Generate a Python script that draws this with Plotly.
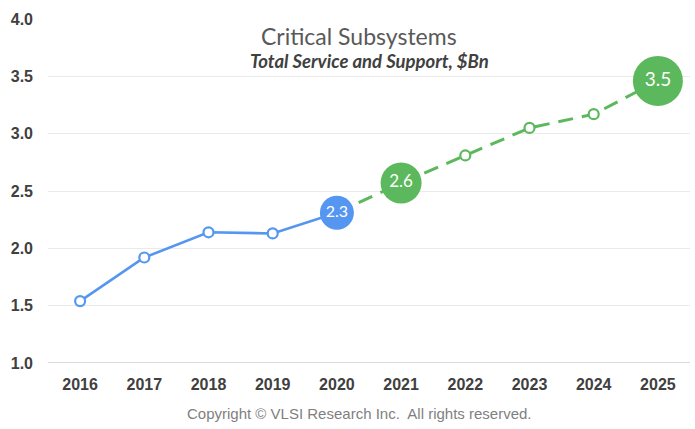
import plotly.graph_objects as go

years = ["2016", "2017", "2018", "2019", "2020", "2021", "2022", "2023", "2024", "2025"]
actual_years = ["2016", "2017", "2018", "2019", "2020"]
actual_vals = [1.54, 1.92, 2.14, 2.13, 2.31]
forecast_years = ["2020", "2021", "2022", "2023", "2024", "2025"]
forecast_vals = [2.31, 2.57, 2.81, 3.05, 3.17, 3.46]
bubble_years = ["2020", "2021", "2025"]
bubble_vals = [2.31, 2.57, 3.46]
bubble_labels = ["2.3", "2.6", "3.5"]
bubble_sizes = [34, 41, 50]
bubble_text_sizes = [16, 17, 19]
bubble_colors = ["#5596F0", "#5CB85C", "#5CB85C"]

BLUE = "#5596F0"
GREEN = "#5CB85C"
TICKFONT = dict(family="Liberation Sans, Arial, sans-serif", size=16, color="#404040", weight="bold")

fig = go.Figure()

fig.add_trace(go.Scatter(
    x=forecast_years, y=forecast_vals, mode="lines",
    line=dict(color=GREEN, width=3, dash="15px,9px")))
fig.add_trace(go.Scatter(
    x=forecast_years[2:-1], y=forecast_vals[2:-1], mode="markers",
    marker=dict(size=10, color="white", line=dict(color=GREEN, width=2.2))))
fig.add_trace(go.Scatter(
    x=actual_years, y=actual_vals, mode="lines+markers",
    line=dict(color=BLUE, width=2.6),
    marker=dict(size=10, color="white", line=dict(color=BLUE, width=2.2))))
fig.add_trace(go.Scatter(
    x=bubble_years, y=bubble_vals, mode="markers+text",
    text=bubble_labels, textposition="middle center",
    textfont=dict(color="white", size=bubble_text_sizes, family="Lato, Open Sans, sans-serif"),
    marker=dict(size=bubble_sizes, color=bubble_colors, line=dict(width=0), opacity=1)))

fig.update_layout(
    width=695, height=429,
    margin=dict(l=48, r=5, t=19, b=66),
    paper_bgcolor="white", plot_bgcolor="white",
    showlegend=False,
    xaxis=dict(type="category", categoryorder="array", categoryarray=years,
               range=[-0.5, 9.5], showgrid=False, zeroline=False,
               tickfont=TICKFONT, ticks="", ticklabelstandoff=10),
    yaxis=dict(range=[1.0, 4.0], dtick=0.5, tickformat=".1f",
               showgrid=True, gridcolor="#EAEAEA", gridwidth=1,
               zeroline=False, ticks="", ticklabelstandoff=14,
               tickfont=TICKFONT),
    shapes=[dict(type="line", xref="paper", yref="y", x0=0, x1=1, y0=1.0, y1=1.0,
                 line=dict(color="#D9D9D9", width=2))],
    annotations=[
        dict(text="Critical Subsystems", xref="paper", yref="paper", x=(359 - 48) / 642, y=(429 - 36 - 66) / 344,
             showarrow=False, xanchor="center", yanchor="middle",
             font=dict(family="Lato, Open Sans, sans-serif", size=23, color="#595959")),
        dict(text="<b><i>Total Service and Support, $Bn</i></b>", xref="paper", yref="paper",
             x=(369 - 48) / 642, y=(429 - 61 - 66) / 344,
             showarrow=False, xanchor="center", yanchor="middle",
             font=dict(family="Lato, Open Sans, sans-serif", size=18.5, color="#404040")),
        dict(text="Copyright © VLSI Research Inc.  All rights reserved.", xref="paper", yref="paper",
             x=(359 - 48) / 642, y=-(413 - 363) / 344,
             showarrow=False, xanchor="center", yanchor="middle",
             font=dict(family="Liberation Sans, Arial, sans-serif", size=15, color="#7F7F7F")),
    ],
)

fig.write_html("out.html")
